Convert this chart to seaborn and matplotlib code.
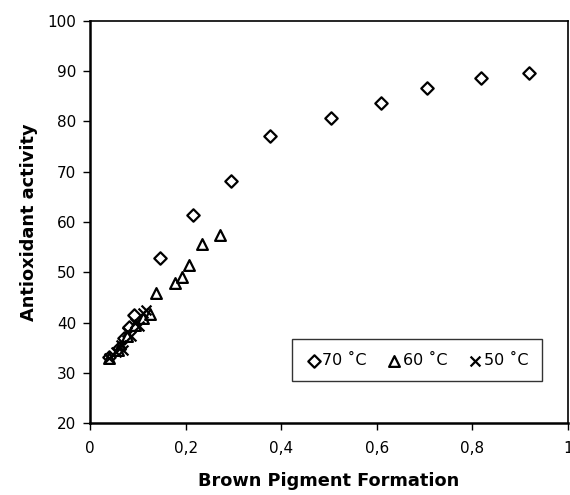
import numpy as np
import pandas as pd
import matplotlib
matplotlib.use("Agg")
import matplotlib.pyplot as plt
import seaborn as sns
from matplotlib.ticker import FuncFormatter

# Data
x70 = [0.040, 0.060, 0.072, 0.082, 0.091, 0.147, 0.215, 0.295, 0.377, 0.504, 0.609, 0.706, 0.818, 0.919]
y70 = [33.2, 35.0, 37.0, 39.2, 41.6, 52.8, 61.4, 68.2, 77.1, 80.6, 83.7, 86.7, 88.7, 89.7]
x60 = [0.040, 0.058, 0.078, 0.095, 0.110, 0.126, 0.139, 0.178, 0.193, 0.207, 0.235, 0.272]
y60 = [33.0, 34.5, 37.3, 39.5, 41.0, 41.8, 45.8, 47.9, 49.1, 51.4, 55.7, 57.4]
x50 = [0.040, 0.055, 0.065, 0.070, 0.078, 0.085, 0.095, 0.102, 0.110, 0.118]
y50 = [33.0, 34.2, 35.6, 34.6, 38.2, 37.4, 40.0, 39.4, 42.0, 42.6]
series_names = ["70 \u02daC", "60 \u02daC", "50 \u02daC"]
x_ticks = [0, 0.2, 0.4, 0.6, 0.8, 1.0]
y_ticks = [20, 30, 40, 50, 60, 70, 80, 90, 100]

df = pd.DataFrame({
    "x": x70 + x60 + x50,
    "y": y70 + y60 + y50,
    "series": [series_names[0]] * len(x70) + [series_names[1]] * len(x60) + [series_names[2]] * len(x50),
})

sns.set_theme(style="white")
plt.rcParams["font.family"] = ["DejaVu Sans"]
plt.rcParams["text.color"] = "black"
plt.rcParams["axes.labelcolor"] = "black"

fig = plt.figure(figsize=(5.7, 4.95), dpi=100)
ax = fig.add_axes([0.158, 0.145, 0.838, 0.813])

markers = {series_names[0]: "D", series_names[1]: "^", series_names[2]: "x"}
for name in series_names:
    sub = df[df["series"] == name]
    if markers[name] == "x":
        sns.scatterplot(data=sub, x="x", y="y", ax=ax, marker="x", s=50, color="black",
                        linewidth=1.6, label=name)
    else:
        sns.scatterplot(data=sub, x="x", y="y", ax=ax, marker=markers[name],
                        s=40 if markers[name] == "D" else 60,
                        facecolor="white", edgecolor="black", linewidth=1.6, label=name)

ax.set_xlim(0, 1)
ax.set_ylim(20, 100)
ax.set_xticks(x_ticks)
ax.set_yticks(y_ticks)
ax.xaxis.set_major_formatter(FuncFormatter(lambda v, p: ("%g" % v).replace(".", ",")))
ax.tick_params(axis="both", which="major", direction="out", length=5, width=1,
               labelsize=11, color="black", labelcolor="black", bottom=True, left=True,
               top=False, right=False, pad=5)
ax.tick_params(axis="x", pad=8)
for sp in ax.spines.values():
    sp.set_color("black")
    sp.set_linewidth(1.2)
ax.spines["left"].set_linewidth(1.8)
ax.spines["bottom"].set_linewidth(1.8)

ax.set_xlabel("Brown Pigment Formation", fontsize=12.8, fontweight="bold", labelpad=11,
              color="black")
ax.set_ylabel("Antioxidant activity", fontsize=12.8, fontweight="bold", labelpad=7,
              color="black")

leg = ax.legend(loc="lower left", bbox_to_anchor=(0.423, 0.104, 0.523, 0.155), mode="expand",
                ncol=3, frameon=True, fancybox=False, fontsize=11.5, handletextpad=0.05,
                columnspacing=0.6, borderaxespad=0, handlelength=1.0, borderpad=0.85)
leg.get_frame().set_edgecolor("black")
leg.get_frame().set_linewidth(1.0)
for t in leg.get_texts():
    t.set_color("black")

fig.savefig("out.png", dpi=100)
